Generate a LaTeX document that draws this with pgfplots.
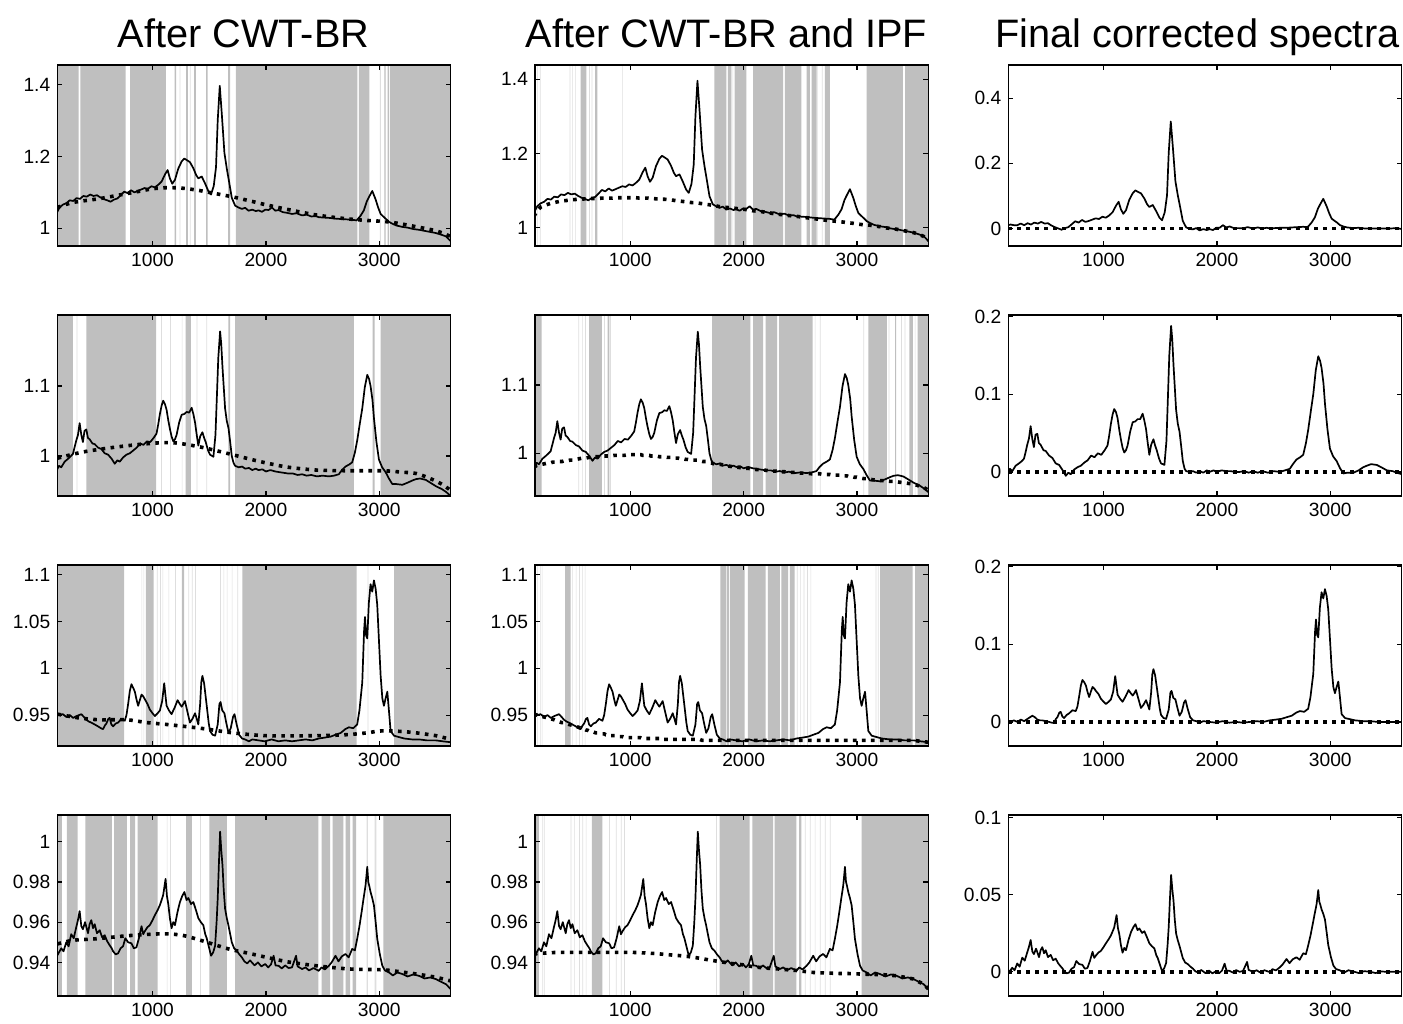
\documentclass[border=0pt]{standalone}
\usepackage{pgfplots}
\pgfplotsset{compat=1.18}
\usepackage{pgfplotstable}
\usepackage{fontspec}
\setmainfont{Liberation Sans}
\definecolor{band}{gray}{0.75}
\definecolor{lband}{gray}{0.87}

\pgfplotstableread{
x raw ipf
150 1.040 1.031
180 1.058 1.046
210 1.066 1.056
240 1.070 1.060
270 1.078 1.063
300 1.076 1.066
330 1.084 1.068
360 1.082 1.070
390 1.090 1.072
420 1.088 1.073
450 1.094 1.074
480 1.090 1.075
510 1.092 1.076
540 1.086 1.077
570 1.081 1.077
600 1.078 1.078
630 1.074 1.078
660 1.080 1.079
690 1.083 1.079
720 1.092 1.079
750 1.102 1.080
780 1.098 1.080
810 1.106 1.080
840 1.100 1.080
870 1.104 1.081
900 1.108 1.081
930 1.112 1.081
960 1.110 1.081
990 1.117 1.081
1020 1.114 1.081
1050 1.121 1.081
1080 1.130 1.080
1110 1.150 1.080
1133 1.162 1.080
1153 1.139 1.080
1174 1.124 1.079
1198 1.135 1.079
1227 1.166 1.078
1257 1.186 1.078
1280 1.194 1.077
1301 1.190 1.077
1330 1.184 1.076
1360 1.167 1.075
1385 1.148 1.074
1404 1.139 1.073
1434 1.144 1.072
1463 1.125 1.071
1493 1.103 1.070
1516 1.094 1.069
1540 1.118 1.068
1560 1.170 1.068
1575 1.300 1.067
1593 1.396 1.067
1611 1.318 1.066
1634 1.210 1.065
1655 1.166 1.064
1676 1.128 1.063
1699 1.085 1.062
1729 1.063 1.060
1758 1.058 1.059
1788 1.054 1.057
1817 1.057 1.056
1847 1.049 1.055
1880 1.052 1.054
1910 1.048 1.053
1935 1.050 1.052
1965 1.046 1.051
1995 1.052 1.050
2024 1.051 1.049
2053 1.058 1.048
2083 1.049 1.046
2112 1.051 1.045
2150 1.045 1.044
2190 1.043 1.042
2230 1.040 1.040
2270 1.042 1.038
2319 1.036 1.036
2360 1.038 1.035
2400 1.033 1.033
2440 1.034 1.032
2466 1.031 1.031
2510 1.030 1.029
2560 1.029 1.027
2614 1.027 1.025
2660 1.026 1.023
2710 1.025 1.021
2761 1.024 1.019
2800 1.022 1.018
2835 1.035 1.017
2864 1.050 1.016
2890 1.075 1.015
2909 1.087 1.014
2938 1.104 1.013
2968 1.080 1.012
2990 1.058 1.011
3012 1.040 1.010
3035 1.033 1.009
3056 1.027 1.008
3086 1.018 1.008
3115 1.013 1.007
3150 1.008 1.005
3204 1.004 1.003
3250 1.002 1.000
3300 0.998 0.998
3351 0.996 0.996
3400 0.993 0.993
3450 0.990 0.990
3499 0.987 0.987
3540 0.983 0.983
3587 0.978 0.977
3631 0.964 0.966
}\rowA

\pgfplotstableread{
x y
160 1.058
300 1.072
540 1.083
833 1.100
1000 1.110
1126 1.113
1250 1.112
1400 1.106
1480 1.101
1600 1.094
1714 1.087
1850 1.077
2007 1.065
2200 1.052
2448 1.037
2700 1.027
2889 1.022
3050 1.019
3182 1.013
3350 1.003
3476 0.995
3560 0.987
3629 0.977
}\cwtA

\pgfplotstableread{
x raw ipf
150 0.978 0.980
175 0.986 0.982
195 0.984 0.983
225 0.992 0.984
254 0.996 0.985
280 1.000 0.986
298 1.003 0.986
315 1.014 0.987
327 1.022 0.987
342 1.030 0.987
357 1.047 0.988
372 1.030 0.988
386 1.020 0.988
400 1.036 0.988
416 1.038 0.989
430 1.026 0.989
445 1.024 0.989
470 1.018 0.990
490 1.017 0.990
520 1.012 0.991
549 1.010 0.992
578 1.004 0.993
608 1.002 0.993
640 0.996 0.994
667 0.989 0.994
690 0.994 0.995
711 0.992 0.995
740 0.998 0.995
770 1.002 0.996
800 1.004 0.996
830 1.008 0.996
860 1.012 0.997
890 1.018 0.997
920 1.016 0.997
950 1.021 0.997
980 1.020 0.998
1010 1.026 0.998
1035 1.032 0.998
1050 1.045 0.998
1065 1.060 0.998
1080 1.072 0.998
1094 1.079 0.998
1110 1.074 0.997
1124 1.066 0.997
1140 1.050 0.997
1153 1.039 0.997
1168 1.028 0.997
1183 1.021 0.996
1198 1.024 0.996
1212 1.030 0.996
1235 1.048 0.996
1257 1.059 0.995
1280 1.060 0.995
1301 1.063 0.995
1323 1.062 0.994
1345 1.069 0.994
1360 1.060 0.994
1375 1.048 0.993
1390 1.030 0.993
1404 1.015 0.993
1420 1.028 0.993
1440 1.034 0.992
1455 1.026 0.992
1469 1.020 0.992
1490 1.008 0.991
1507 1.002 0.991
1537 0.999 0.990
1555 1.030 0.990
1566 1.078 0.990
1580 1.140 0.990
1596 1.178 0.990
1606 1.160 0.989
1617 1.127 0.989
1640 1.068 0.988
1655 1.050 0.988
1670 1.040 0.988
1685 1.020 0.987
1699 1.000 0.986
1715 0.990 0.986
1729 0.986 0.985
1760 0.984 0.984
1790 0.985 0.984
1817 0.982 0.983
1850 0.983 0.982
1880 0.980 0.981
1910 0.982 0.980
1935 0.980 0.980
1970 0.981 0.979
2000 0.978 0.978
2040 0.980 0.978
2083 0.978 0.977
2120 0.977 0.976
2160 0.976 0.976
2200 0.975 0.975
2240 0.975 0.974
2280 0.973 0.974
2319 0.974 0.973
2360 0.972 0.973
2400 0.973 0.972
2450 0.971 0.972
2500 0.972 0.971
2555 0.971 0.971
2600 0.972 0.970
2643 0.974 0.970
2670 0.980 0.970
2702 0.985 0.969
2735 0.988 0.969
2761 0.991 0.969
2785 1.005 0.968
2805 1.022 0.968
2830 1.048 0.968
2850 1.068 0.968
2872 1.098 0.967
2894 1.116 0.967
2910 1.110 0.967
2923 1.100 0.966
2940 1.080 0.966
2953 1.054 0.966
2975 1.020 0.965
2997 0.995 0.965
3025 0.984 0.964
3056 0.977 0.963
3085 0.968 0.963
3115 0.960 0.962
3150 0.960 0.961
3204 0.959 0.960
3250 0.962 0.960
3290 0.965 0.959
3322 0.967 0.959
3360 0.968 0.958
3410 0.966 0.957
3450 0.962 0.956
3499 0.957 0.955
3550 0.953 0.952
3587 0.949 0.950
3631 0.943 0.946
}\rowB

\pgfplotstableread{
x y
163 0.997
392 1.006
686 1.013
980 1.018
1185 1.019
1420 1.013
1655 1.004
1850 0.996
2007 0.990
2200 0.984
2448 0.980
2742 0.979
3035 0.979
3200 0.977
3329 0.975
3476 0.966
3560 0.959
3629 0.951
}\cwtB

\pgfplotstableread{
x raw ipf
150 0.952 0.951
180 0.950 0.950
209 0.951 0.949
240 0.948 0.948
270 0.950 0.947
300 0.947 0.946
330 0.949 0.945
372 0.951 0.943
395 0.948 0.942
416 0.945 0.942
440 0.943 0.941
460 0.942 0.940
490 0.940 0.939
519 0.938 0.938
545 0.936 0.937
563 0.935 0.936
580 0.939 0.935
593 0.941 0.935
610 0.946 0.934
622 0.947 0.934
637 0.940 0.933
652 0.938 0.933
675 0.941 0.932
696 0.942 0.931
725 0.946 0.931
755 0.944 0.930
770 0.950 0.930
785 0.962 0.929
800 0.976 0.929
814 0.983 0.929
830 0.979 0.928
844 0.975 0.928
860 0.966 0.928
873 0.960 0.928
888 0.966 0.927
903 0.972 0.927
918 0.970 0.927
932 0.967 0.927
955 0.962 0.926
976 0.956 0.926
1000 0.952 0.926
1021 0.949 0.926
1045 0.952 0.926
1065 0.955 0.926
1085 0.965 0.926
1103 0.984 0.925
1115 0.970 0.925
1124 0.960 0.925
1145 0.955 0.925
1168 0.951 0.925
1195 0.958 0.925
1221 0.966 0.925
1240 0.962 0.925
1257 0.959 0.925
1272 0.962 0.925
1286 0.965 0.924
1305 0.955 0.924
1330 0.942 0.924
1352 0.946 0.924
1375 0.952 0.924
1390 0.946 0.924
1404 0.940 0.924
1420 0.962 0.924
1430 0.985 0.924
1440 0.992 0.924
1455 0.984 0.924
1478 0.960 0.924
1495 0.942 0.924
1507 0.933 0.924
1530 0.929 0.924
1552 0.928 0.924
1575 0.940 0.924
1590 0.962 0.924
1600 0.964 0.924
1615 0.955 0.924
1634 0.952 0.923
1650 0.942 0.923
1670 0.931 0.923
1690 0.936 0.923
1710 0.948 0.923
1723 0.951 0.923
1742 0.940 0.923
1764 0.929 0.923
1790 0.925 0.923
1817 0.924 0.923
1850 0.922 0.923
1880 0.924 0.923
1935 0.923 0.923
1990 0.922 0.923
2050 0.924 0.923
2110 0.922 0.923
2171 0.923 0.923
2230 0.922 0.923
2290 0.923 0.923
2350 0.924 0.923
2410 0.923 0.923
2466 0.925 0.923
2520 0.926 0.923
2570 0.927 0.923
2614 0.929 0.923
2660 0.931 0.923
2700 0.935 0.923
2732 0.937 0.923
2770 0.936 0.923
2805 0.940 0.923
2825 0.955 0.923
2850 0.985 0.923
2866 1.040 0.923
2874 1.055 0.923
2884 1.035 0.923
2894 1.032 0.923
2908 1.070 0.923
2923 1.090 0.923
2938 1.082 0.923
2953 1.094 0.923
2968 1.085 0.923
2982 1.068 0.923
2997 1.030 0.923
3012 0.992 0.923
3027 0.968 0.923
3041 0.960 0.923
3056 0.968 0.923
3071 0.975 0.923
3085 0.955 0.923
3100 0.933 0.923
3130 0.928 0.923
3159 0.927 0.923
3220 0.925 0.923
3290 0.924 0.923
3351 0.924 0.923
3420 0.923 0.923
3499 0.923 0.923
3560 0.922 0.922
3631 0.921 0.921
}\rowC

\pgfplotstableread{
x y
163 0.951
350 0.947
539 0.945
774 0.945
950 0.942
1126 0.940
1420 0.936
1714 0.931
2007 0.928
2448 0.928
2700 0.929
2889 0.931
3000 0.933
3123 0.933
3250 0.932
3329 0.931
3500 0.928
3629 0.924
}\cwtC

\pgfplotstableread{
x raw ipf
150 0.9425 0.9442
170 0.9445 0.9443
195 0.9470 0.9444
215 0.9455 0.9445
239 0.9500 0.9446
260 0.9480 0.9447
283 0.9540 0.9448
305 0.9520 0.9448
327 0.9575 0.9449
342 0.9610 0.9449
357 0.9655 0.9449
372 0.9580 0.9449
386 0.9565 0.9450
405 0.9600 0.9450
431 0.9545 0.9450
445 0.9590 0.9450
460 0.9610 0.9450
475 0.9570 0.9450
490 0.9590 0.9450
510 0.9545 0.9450
534 0.9560 0.9450
555 0.9525 0.9450
578 0.9535 0.9450
600 0.9505 0.9450
622 0.9485 0.9450
640 0.9470 0.9450
652 0.9455 0.9450
675 0.9440 0.9450
696 0.9445 0.9450
718 0.9470 0.9450
740 0.9480 0.9450
760 0.9520 0.9450
785 0.9500 0.9450
814 0.9495 0.9450
835 0.9470 0.9450
858 0.9475 0.9450
880 0.9520 0.9450
903 0.9580 0.9450
918 0.9540 0.9450
932 0.9555 0.9450
955 0.9575 0.9450
976 0.9585 0.9450
1000 0.9610 0.9450
1021 0.9635 0.9450
1045 0.9660 0.9449
1065 0.9685 0.9449
1080 0.9710 0.9448
1094 0.9735 0.9448
1115 0.9815 0.9447
1127 0.9730 0.9447
1139 0.9690 0.9446
1153 0.9620 0.9446
1168 0.9570 0.9446
1183 0.9600 0.9445
1198 0.9585 0.9445
1220 0.9650 0.9444
1242 0.9700 0.9443
1262 0.9730 0.9442
1281 0.9750 0.9441
1300 0.9710 0.9440
1316 0.9720 0.9439
1340 0.9690 0.9438
1360 0.9700 0.9437
1383 0.9660 0.9436
1404 0.9620 0.9435
1426 0.9600 0.9434
1448 0.9585 0.9433
1465 0.9540 0.9432
1478 0.9520 0.9431
1500 0.9470 0.9430
1516 0.9433 0.9429
1535 0.9450 0.9427
1552 0.9483 0.9426
1565 0.9600 0.9425
1575 0.9717 0.9424
1586 0.9900 0.9423
1596 1.0050 0.9422
1606 0.9960 0.9421
1617 0.9883 0.9420
1628 0.9760 0.9419
1640 0.9667 0.9418
1655 0.9620 0.9416
1670 0.9583 0.9415
1685 0.9540 0.9413
1699 0.9500 0.9411
1720 0.9470 0.9410
1743 0.9458 0.9408
1765 0.9440 0.9406
1788 0.9425 0.9404
1810 0.9405 0.9402
1835 0.9395 0.9400
1860 0.9410 0.9398
1876 0.9400 0.9396
1900 0.9385 0.9394
1930 0.9400 0.9392
1960 0.9380 0.9390
1994 0.9392 0.9388
2020 0.9375 0.9384
2045 0.9390 0.9382
2068 0.9433 0.9380
2085 0.9385 0.9378
2112 0.9383 0.9377
2140 0.9370 0.9375
2170 0.9385 0.9374
2200 0.9372 0.9372
2230 0.9375 0.9370
2266 0.9433 0.9369
2280 0.9380 0.9368
2319 0.9367 0.9367
2350 0.9375 0.9365
2380 0.9360 0.9364
2420 0.9372 0.9362
2466 0.9358 0.9360
2490 0.9375 0.9358
2520 0.9365 0.9356
2555 0.9383 0.9354
2580 0.9400 0.9352
2614 0.9433 0.9350
2640 0.9405 0.9349
2670 0.9430 0.9348
2702 0.9442 0.9348
2730 0.9425 0.9347
2761 0.9467 0.9347
2785 0.9460 0.9346
2805 0.9517 0.9346
2825 0.9580 0.9346
2844 0.9650 0.9345
2862 0.9720 0.9345
2879 0.9783 0.9345
2894 0.9875 0.9345
2903 0.9800 0.9345
2912 0.9780 0.9345
2923 0.9750 0.9345
2938 0.9720 0.9344
2953 0.9683 0.9344
2968 0.9600 0.9344
2982 0.9517 0.9343
3005 0.9440 0.9343
3027 0.9383 0.9342
3050 0.9360 0.9342
3086 0.9350 0.9341
3120 0.9335 0.9341
3160 0.9350 0.9340
3204 0.9342 0.9340
3250 0.9330 0.9338
3300 0.9340 0.9336
3351 0.9333 0.9333
3400 0.9320 0.9328
3450 0.9325 0.9323
3499 0.9317 0.9317
3540 0.9305 0.9305
3587 0.9292 0.9292
3631 0.9267 0.9267
}\rowD

\pgfplotstableread{
x y
163 0.9492
300 0.9510
496 0.9517
790 0.9533
1083 0.9542
1260 0.9535
1435 0.9508
1670 0.9467
1850 0.9445
2007 0.9425
2200 0.9402
2448 0.9383
2742 0.9367
3035 0.9363
3200 0.9352
3329 0.9342
3500 0.9326
3629 0.9308
}\cwtD

\pgfplotsset{
  panel/.style={scale only axis, width=196.7pt, height=90.5pt,
    xmin=160, xmax=3630, xtick={1000,2000,3000},
    axis line style={line width=0.75pt}, tick style={black, line width=0.6pt},
    major tick length=2.5pt,
    tick label style={font=\fontsize{9.6}{10}\selectfont},
    /pgf/number format/assume math mode=true,
    /pgf/number format/1000 sep={}, scaled ticks=false,
    axis on top, anchor=south west},
  spec/.style={black, line width=0.85pt, line join=round},
  base/.style={black, line width=1.8pt, dash pattern=on 1.8pt off 2.7pt},
  bands/.style={ybar interval, fill=band, draw=none},
  lbands/.style={ybar interval, fill=lband, draw=none},
}

\begin{document}
\begin{tikzpicture}
\path[use as bounding box] (0,0) rectangle (701.5pt,511.5pt);

\node[font=\fontsize{19.85}{22}\selectfont, anchor=base] at (121.75pt,487.5pt) {After CWT-BR};
\node[font=\fontsize{19.85}{22}\selectfont, anchor=base] at (363.25pt,487.5pt) {After CWT-BR and IPF};
\node[font=\fontsize{19.85}{22}\selectfont, anchor=base] at (598.75pt,487.5pt) {Final corrected spectra};

% ---------------- Row 1 ----------------
\begin{axis}[panel, at={(28.65pt,388.5pt)}, ymin=0.951, ymax=1.454, ytick={1,1.2,1.4}]
\addplot[bands] coordinates {(160,2)(348,0)(363,2)(762,0)(803,2)(1117,0)(1194,2)(1208,0)(1297,2)(1311,0)(1367,2)(1382,0)(1473,2)(1485,0)(1667,2)(1684,0)(1734,2)(2806,0)(2821,2)(2912,0)(3045,2)(3055,0)(3074,2)(3084,0)(3094,2)(3630,0)};
\addplot[lbands] coordinates {(1240,2)(1246,0)(1330,2)(1336,0)(3006,2)(3013,0)};
\addplot[spec] table[x=x,y=raw] {\rowA};
\addplot[base, smooth] table[x=x,y=y] {\cwtA};
\end{axis}

\begin{axis}[panel, at={(267.5pt,388.5pt)}, ymin=0.951, ymax=1.4386, ytick={1,1.2,1.4}]
\addplot[bands] coordinates {(563,2)(614,0)(690,2)(710,0)(1743,2)(1847,0)(1861,2)(1891,0)(1926,2)(2024,0)(2083,2)(2348,0)(2363,2)(2510,0)(2555,2)(2585,0)(2600,2)(2643,0)(2717,2)(2761,0)(3086,2)(3404,0)(3425,2)(3631,0)};
\addplot[lbands] coordinates {(180,2)(186,0)(203,2)(209,0)(466,2)(471,0)(490,2)(495,0)(514,2)(519,0)(637,2)(643,0)(660,2)(666,0)(930,2)(936,0)(1895,2)(1901,0)(1915,2)(1921,0)(2650,2)(2656,0)(2690,2)(2696,0)};
\addplot[spec] table[x=x,y=raw] {\rowA};
\addplot[base] table[x=x,y=ipf] {\rowA};
\end{axis}

\begin{axis}[panel, at={(504.15pt,388.5pt)}, ymin=-0.054, ymax=0.5026, ytick={0,0.2,0.4}]
\addplot[spec] table[x=x,y expr=\thisrow{raw}-\thisrow{ipf}] {\rowA};
\addplot[base] coordinates {(160,0)(3630,0)};
\end{axis}

% ---------------- Row 2 ----------------
\begin{axis}[panel, at={(28.65pt,263.5pt)}, ymin=0.943, ymax=1.2014, ytick={1,1.1}]
\addplot[bands] coordinates {(160,2)(298,0)(416,2)(1032,0)(1291,2)(1338,0)(1670,2)(1684,0)(1728,2)(2777,0)(2941,2)(2959,0)(3012,2)(3630,0)};
\addplot[lbands] coordinates {(330,2)(336,0)(1076,2)(1082,0)(1155,2)(1161,0)(1258,2)(1264,0)(1390,2)(1395,0)(1475,2)(1481,0)};
\addplot[spec] table[x=x,y=raw] {\rowB};
\addplot[base, smooth] table[x=x,y=y] {\cwtB};
\end{axis}

\begin{axis}[panel, at={(267.5pt,263.5pt)}, ymin=0.9375, ymax=1.2025, ytick={1,1.1}]
\addplot[bands] coordinates {(150,2)(218,0)(637,2)(749,0)(800,2)(815,0)(1723,2)(2059,0)(2083,2)(2171,0)(2195,2)(2295,0)(2313,2)(2608,0)(3100,2)(3263,0)(3336,2)(3345,0)(3463,2)(3493,0)(3534,2)(3631,0)};
\addplot[lbands] coordinates {(543,2)(549,0)(575,2)(581,0)(602,2)(608,0)(770,2)(776,0)(823,2)(829,0)(2628,2)(2634,0)(2673,2)(2679,0)(3056,2)(3062,0)(3280,2)(3286,0)(3390,2)(3396,0)(3420,2)(3426,0)(3510,2)(3516,0)};
\addplot[spec] table[x=x,y=raw] {\rowB};
\addplot[base] table[x=x,y=ipf] {\rowB};
\end{axis}

\begin{axis}[panel, at={(504.15pt,263.5pt)}, ymin=-0.031, ymax=0.2021, ytick={0,0.1,0.2}]
\addplot[spec] table[x=x,y expr=\thisrow{raw}-\thisrow{ipf}] {\rowB};
\addplot[base] coordinates {(160,0)(3630,0)};
\end{axis}

% ---------------- Row 3 ----------------
\begin{axis}[panel, at={(28.65pt,138.5pt)}, ymin=0.917, ymax=1.1105, ytick={0.95,1,1.05,1.1}]
\addplot[bands] coordinates {(160,2)(750,0)(941,2)(1009,0)(1258,2)(1279,0)(1793,2)(2800,0)(3132,2)(3630,0)};
\addplot[lbands] coordinates {(904,2)(909,0)(921,2)(926,0)(1038,2)(1044,0)(1068,2)(1074,0)(1088,2)(1094,0)(1141,2)(1147,0)(1200,2)(1206,0)(1317,2)(1323,0)(1347,2)(1353,0)(1376,2)(1382,0)(1596,2)(1602,0)(1626,2)(1632,0)(1655,2)(1661,0)(1699,2)(1705,0)(1749,2)(1755,0)(2897,2)(2903,0)};
\addplot[spec] table[x=x,y=raw] {\rowC};
\addplot[base, smooth] table[x=x,y=y] {\cwtC};
\end{axis}

\begin{axis}[panel, at={(267.5pt,138.5pt)}, ymin=0.917, ymax=1.1105, ytick={0.95,1,1.05,1.1}]
\addplot[bands] coordinates {(425,2)(475,0)(1794,2)(1845,0)(1852,2)(1872,0)(1880,2)(2009,0)(2038,2)(2195,0)(2215,2)(2319,0)(2333,2)(2392,0)(2407,2)(2451,0)(3204,2)(3490,0)(3513,2)(3631,0)};
\addplot[lbands] coordinates {(160,2)(165,0)(180,2)(185,0)(205,2)(210,0)(220,2)(225,0)(490,2)(495,0)(520,2)(525,0)(550,2)(555,0)(575,2)(580,0)(600,2)(605,0)(2470,2)(2476,0)(2500,2)(2506,0)(2530,2)(2536,0)(2560,2)(2566,0)(2590,2)(2596,0)(3165,2)(3171,0)(3185,2)(3191,0)};
\addplot[spec] table[x=x,y=raw] {\rowC};
\addplot[base] table[x=x,y=ipf] {\rowC};
\end{axis}

\begin{axis}[panel, at={(504.15pt,138.5pt)}, ymin=-0.031, ymax=0.2021, ytick={0,0.1,0.2}]
\addplot[spec] table[x=x,y expr=\thisrow{raw}-\thisrow{ipf}] {\rowC};
\addplot[base] coordinates {(160,0)(3630,0)};
\end{axis}

% ---------------- Row 4 ----------------
\begin{axis}[panel, at={(28.65pt,13.5pt)}, ymin=0.9233, ymax=1.0133, ytick={0.94,0.96,0.98,1}, yticklabels={0.94,0.96,0.98,1}]
\addplot[bands] coordinates {(160,2)(201,0)(245,2)(339,0)(407,2)(642,0)(662,2)(774,0)(803,2)(847,0)(868,2)(1044,0)(1297,2)(1347,0)(1502,2)(1655,0)(1728,2)(2463,0)(2492,2)(2566,0)(2589,2)(2683,0)(2704,2)(2742,0)(2765,2)(2795,0)(3035,2)(3630,0)};
\addplot[lbands] coordinates {(1126,2)(1132,0)(1156,2)(1162,0)(1420,2)(1426,0)(2888,2)(2900,0)(2960,2)(2975,0)};
\addplot[spec] table[x=x,y=raw] {\rowD};
\addplot[base, smooth] table[x=x,y=y] {\cwtD};
\end{axis}

\begin{axis}[panel, at={(267.5pt,13.5pt)}, ymin=0.9233, ymax=1.0133, ytick={0.94,0.96,0.98,1}, yticklabels={0.94,0.96,0.98,1}]
\addplot[bands] coordinates {(150,2)(195,0)(661,2)(755,0)(1788,2)(2053,0)(2077,2)(2260,0)(2274,2)(2466,0)(2490,2)(2510,0)(3041,2)(3631,0)};
\addplot[lbands] coordinates {(224,2)(230,0)(239,2)(245,0)(475,2)(481,0)(504,2)(510,0)(549,2)(555,0)(578,2)(584,0)(608,2)(614,0)(814,2)(820,0)(873,2)(879,0)(917,2)(923,0)(947,2)(953,0)(1758,2)(1764,0)(2540,2)(2546,0)(2584,2)(2590,0)(2628,2)(2634,0)(2673,2)(2679,0)(2717,2)(2723,0)(2761,2)(2767,0)};
\addplot[spec] table[x=x,y=raw] {\rowD};
\addplot[base] table[x=x,y=ipf] {\rowD};
\end{axis}

\begin{axis}[panel, at={(504.15pt,13.5pt)}, ymin=-0.0157, ymax=0.1017, ytick={0,0.05,0.1}, yticklabels={0,0.05,0.1}]
\addplot[spec] table[x=x,y expr=\thisrow{raw}-\thisrow{ipf}] {\rowD};
\addplot[base] coordinates {(160,0)(3630,0)};
\end{axis}
\end{tikzpicture}
\end{document}
